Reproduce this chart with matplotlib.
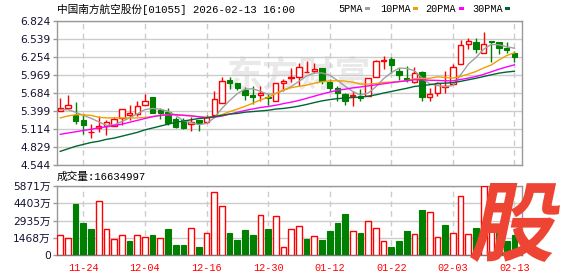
import matplotlib
matplotlib.use('Agg')
import matplotlib.pyplot as plt
import numpy as np
from matplotlib.patches import Rectangle, PathPatch
from matplotlib.textpath import TextPath
from matplotlib.font_manager import FontProperties
from matplotlib.transforms import Affine2D, IdentityTransform

# ---------------- data ----------------
title = "中国南方航空股份[01055] 2026-02-13 16:00"
x_labels = ["11-24", "12-04", "12-16", "12-30", "01-12", "01-22", "02-03", "02-13"]
x_label_pos = [3, 11, 19, 27, 35, 43, 51, 59]

opens = [5.40, 5.45, 5.34, 5.26, 5.068, 5.13, 5.16, 5.16, 5.29, 5.33,
         5.35, 5.49, 5.62, 5.42, 5.39, 5.276, 5.26, 5.20, 5.26, 5.22,
         5.33, 5.52, 5.888, 5.841, 5.736, 5.652, 5.658, 5.62, 5.564, 5.85,
         5.92, 5.945, 6.02, 6.034, 6.087, 5.851, 5.762, 5.668, 5.64, 5.64,
         5.64, 5.93, 6.195, 6.228, 6.034, 5.914, 5.851, 6.019, 5.616, 5.684,
         5.773, 5.825, 6.139, 6.463, 6.495, 6.322, 6.515, 6.495, 6.395, 6.322]
closes = [5.44, 5.49, 5.234, 5.182, 5.072, 5.156, 5.218, 5.276, 5.433, 5.365,
          5.475, 5.558, 5.365, 5.370, 5.208, 5.145, 5.13, 5.22, 5.21, 5.30,
          5.59, 5.88, 5.841, 5.762, 5.652, 5.621, 5.679, 5.60, 5.836, 5.88,
          5.93, 6.102, 6.024, 6.071, 5.877, 5.762, 5.684, 5.564, 5.65, 5.60,
          5.914, 6.19, 6.20, 6.123, 5.966, 5.888, 6.008, 5.616, 5.663, 5.836,
          5.799, 6.102, 6.447, 6.510, 6.374, 6.453, 6.489, 6.401, 6.364, 6.259]
highs = [5.605, 5.652, 5.548, 5.354, 5.192, 5.313, 5.260, 5.302, 5.433, 5.496,
         5.558, 5.668, 5.621, 5.443, 5.443, 5.30, 5.29, 5.30, 5.26, 5.33,
         5.72, 5.94, 5.945, 5.85, 5.773, 5.79, 5.80, 5.668, 5.84, 5.905,
         6.087, 6.165, 6.19, 6.165, 6.087, 5.90, 5.80, 5.684, 5.72, 5.75,
         5.914, 6.202, 6.27, 6.26, 6.087, 6.113, 6.103, 6.034, 5.757, 5.862,
         6.034, 6.14, 6.531, 6.547, 6.547, 6.646, 6.515, 6.495, 6.495, 6.35]
lows = [5.396, 5.433, 5.192, 5.030, 4.973, 5.067, 5.014, 5.161, 5.171, 5.260,
        5.313, 5.490, 5.365, 5.276, 5.171, 5.13, 5.12, 5.08, 5.08, 5.21,
        5.33, 5.52, 5.747, 5.73, 5.58, 5.51, 5.56, 5.50, 5.56, 5.71,
        5.851, 5.80, 6.02, 6.008, 5.825, 5.72, 5.56, 5.496, 5.48, 5.56,
        5.64, 5.93, 6.06, 6.008, 5.887, 5.851, 5.85, 5.564, 5.564, 5.643,
        5.684, 5.82, 6.139, 6.385, 6.322, 6.32, 6.176, 6.30, 6.322, 6.176]
# volume, unit: 万股
volumes = [1700, 1460, 4380, 2760, 2250, 4600, 2170, 1380, 1720, 1230,
           1720, 1550, 1740, 1460, 2250, 810, 890, 2310, 720, 1890,
           5400, 4180, 1830, 1260, 2110, 1660, 3420, 2190, 3330, 700,
           2170, 2480, 1340, 1630, 1260, 2000, 2760, 3530, 2000, 1830,
           2930, 2310, 1150, 720, 1150, 2000, 1800, 3870, 3670, 1550,
           2590, 1890, 5000, 1800, 2300, 5871, 2200, 1900, 1230, 1663]
prev_close = 5.40

ma5_head = [5.42, 5.42, 5.38, 5.33]
ma10_head = [5.29, 5.32, 5.34, 5.34, 5.33, 5.30, 5.29, 5.29, 5.29]
ma20_head = [5.03, 5.05, 5.07, 5.09, 5.11, 5.13, 5.15, 5.17, 5.19, 5.22,
             5.25, 5.28, 5.31, 5.33, 5.34, 5.34, 5.33, 5.32, 5.31]
ma30_head = [4.76, 4.80, 4.84, 4.87, 4.90, 4.92, 4.95, 4.97, 5.00, 5.03,
             5.06, 5.10, 5.13, 5.16, 5.19, 5.22, 5.24, 5.26, 5.28, 5.29,
             5.31, 5.33, 5.35, 5.36, 5.38, 5.39, 5.40, 5.41, 5.43]

price_ticks = [4.544, 4.829, 5.114, 5.399, 5.684, 5.969, 6.254, 6.539, 6.824]
vol_ticks = [0, 1468, 2935, 4403, 5871]
vol_tick_labels = ["0", "1468万", "2935万", "4403万", "5871万"]
last_volume_text = "成交量:16634997"
ma_names = ["5PMA", "10PMA", "20PMA", "30PMA"]
ma_colors = ["#a0a0a0", "#f0a000", "#ff00ff", "#006633"]

# ---------------- helpers ----------------
N = len(closes)
x = np.arange(N)


def moving_avg(n, head):
    out = list(head)
    for i in range(n - 1, N):
        out.append(float(np.mean(closes[i - n + 1:i + 1])))
    return np.array(out)


mas = [moving_avg(5, ma5_head), moving_avg(10, ma10_head),
       moving_avg(20, ma20_head), moving_avg(30, ma30_head)]

RED = "#ff0000"
GREEN = "#008000"
GRID = "#cccccc"
FRAME = "#999999"
LABEL = "#111133"
MONO = ["Liberation Mono", "Noto Sans CJK SC"]
SANS = ["DejaVu Sans", "Noto Sans CJK SC"]

W, H = 578, 276
fig = plt.figure(figsize=(W / 100, H / 100), dpi=100)
fig.patch.set_facecolor("white")

ax = fig.add_axes([57 / W, (H - 165) / H, 465 / W, 144 / H])
axv = fig.add_axes([57 / W, (H - 255) / H, 465 / W, 69 / H])

xlim = (-0.42, 59.98)
for a in (ax, axv):
    a.set_xlim(*xlim)
    for s in a.spines.values():
        s.set_color(FRAME)
        s.set_linewidth(1.0)
    a.set_xticks(x_label_pos)
    a.grid(axis="x", color=GRID, linestyle=(0, (4, 3)), linewidth=1.0)
    a.grid(axis="y", color=GRID, linestyle="-", linewidth=1.0)
    a.set_axisbelow(True)
    a.tick_params(axis="y", length=3, width=1, color=FRAME, pad=1.5,
                  labelsize=7.7, labelcolor=LABEL)
    a.tick_params(axis="x", length=0)

# ---------------- price panel ----------------
ax.set_ylim(price_ticks[0], price_ticks[-1])
ax.set_yticks(price_ticks)
ax.set_yticklabels([f"{t:.3f}" for t in price_ticks], family=SANS)
ax.set_xticklabels([])

ax.text(0.52, 0.62, "东方财富", transform=ax.transAxes, fontsize=26,
        color="#e9e9e9", family=["Noto Sans CJK SC"], fontweight="bold",
        ha="center", va="center", zorder=0.5)

cw = 0.70
for i in range(N):
    o, c, h, l = opens[i], closes[i], highs[i], lows[i]
    if c >= o:
        top, bot = c, o
        ax.plot([i, i], [top, h], color=RED, lw=1.0, zorder=3, solid_capstyle="butt")
        ax.plot([i, i], [l, bot], color=RED, lw=1.0, zorder=3, solid_capstyle="butt")
        ax.add_patch(Rectangle((i - cw / 2, bot), cw, max(top - bot, 0.002),
                               facecolor="white", edgecolor=RED, lw=1.0, zorder=3))
    else:
        ax.plot([i, i], [l, h], color=GREEN, lw=1.0, zorder=3, solid_capstyle="butt")
        ax.add_patch(Rectangle((i - cw / 2, c), cw, o - c,
                               facecolor=GREEN, edgecolor=GREEN, lw=0.8, zorder=3))

for m, col in zip(mas, ma_colors):
    ax.plot(x, m, color=col, lw=1.0, zorder=4)

# ---------------- volume panel ----------------
axv.set_ylim(0, vol_ticks[-1])
axv.set_yticks(vol_ticks)
axv.set_yticklabels(vol_tick_labels, family=SANS)
axv.set_xticklabels(x_labels, family=MONO, fontsize=7.3, color=RED)
axv.tick_params(axis="x", pad=6)
axv.spines["bottom"].set_color("#777777")

vw = 0.74
for i in range(N):
    pc = prev_close if i == 0 else closes[i - 1]
    if closes[i] >= pc:
        axv.add_patch(Rectangle((i - vw / 2, 0), vw, volumes[i], facecolor="white",
                                edgecolor=RED, lw=1.0, zorder=3))
    else:
        axv.add_patch(Rectangle((i - vw / 2, 0), vw, volumes[i], facecolor=GREEN,
                                edgecolor=GREEN, lw=0.8, zorder=3))

# ---------------- header texts ----------------
fig.text(57 / W, 1 - 9 / H, title, family=MONO, fontsize=7.7, color="black",
         ha="left", va="center")
fig.text(57 / W, 1 - 177 / H, last_volume_text, family=MONO, fontsize=7.7,
         color="black", ha="left", va="center")

leg_x = [338, 380, 425, 472]
sq_x = [365, 413, 459, 505]
for name, col, tx, sx in zip(ma_names, ma_colors, leg_x, sq_x):
    fig.text(tx / W, 1 - 9 / H, name, family=MONO, fontsize=7.3, color="black",
             ha="left", va="center")
    fig.add_artist(Rectangle((sx / W, 1 - 10 / H), 5 / W, 3 / H, facecolor=col,
                             edgecolor="none", transform=fig.transFigure))

# ---------------- "股" watermark ----------------
fp = FontProperties(family="Noto Sans CJK SC", weight="bold")
tp = TextPath((0, 0), "股", size=84, prop=fp)
tr = Affine2D().skew_deg(12, 0)
p = tr.transform_path(tp)
ext = p.get_extents()
tx0, ty0 = 470, H - 262
sx_ = 90 / ext.width
sy_ = 79 / ext.height
p2 = Affine2D().translate(-ext.x0, -ext.y0).scale(sx_, sy_).translate(tx0, ty0).transform_path(p)
fig.add_artist(PathPatch(p2, facecolor="#ee4433", edgecolor="none",
                         transform=IdentityTransform(), zorder=10))

fig.savefig("out.png", dpi=100, facecolor="white")
